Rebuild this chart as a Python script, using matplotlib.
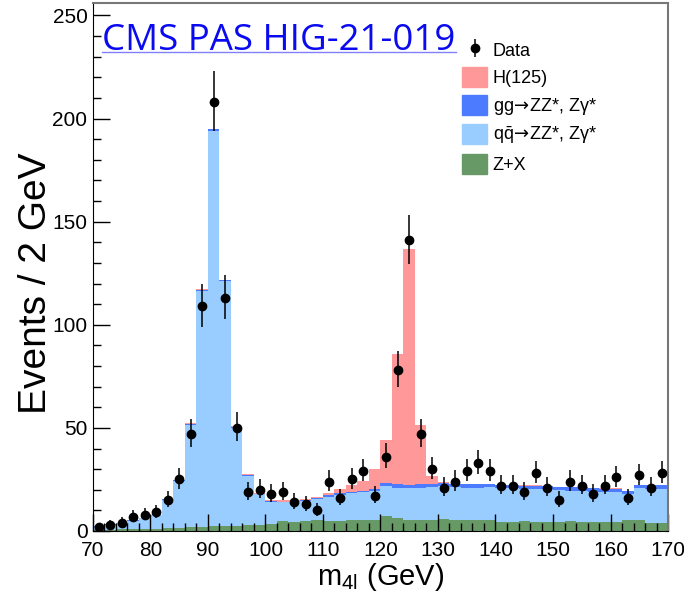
import numpy as np
import matplotlib
matplotlib.use('Agg')
import matplotlib.pyplot as plt
from matplotlib.patches import Patch
from matplotlib.lines import Line2D
from matplotlib.ticker import MultipleLocator

plt.rcParams['font.family'] = ['Liberation Sans', 'DejaVu Sans']
plt.rcParams['mathtext.fontset'] = 'custom'
plt.rcParams['mathtext.rm'] = 'Liberation Sans'
plt.rcParams['mathtext.it'] = 'Liberation Sans:italic'
plt.rcParams['mathtext.sf'] = 'DejaVu Sans'

# 2 GeV bins from 70 to 170 GeV
mass_edges = np.arange(70, 171, 2)

data_counts = [2, 3, 4, 7, 8, 9, 15, 25, 47, 109,
               208, 113, 50, 19, 20, 18, 19, 14, 13, 10,
               24, 16, 25, 29, 17, 36, 78, 141, 47, 30,
               21, 24, 29, 33, 29, 22, 22, 19, 28, 21,
               15, 24, 22, 18, 22, 26, 16, 27, 21, 28]

zx = [0.6, 0.7, 0.8, 0.9, 1.0, 1.1, 1.3, 1.5, 1.8, 2.0,
      2.2, 2.4, 2.6, 2.9, 3.1, 3.3, 4.9, 4.5, 4.7, 5.2,
      5.0, 5.0, 5.5, 5.2, 5.3, 7.3, 6.2, 5.3, 5.2, 5.4,
      5.9, 5.1, 5.4, 5.3, 5.2, 4.5, 4.5, 5.0, 4.6, 4.6,
      4.3, 4.7, 4.4, 4.2, 4.5, 4.4, 5.5, 5.4, 3.7, 3.7]

qq_zz = [1.4, 2.3, 3.1, 4.0, 5.2, 6.6, 13.8, 22.9, 49.5, 114.3,
         191.9, 118.6, 47.4, 24.0, 14.6, 10.8, 9.0, 9.4, 9.9, 10.3,
         11.7, 12.5, 12.8, 13.6, 14.1, 14.3, 14.8, 15.5, 15.8, 16.0,
         15.9, 16.1, 15.6, 15.7, 15.9, 16.3, 16.2, 15.4, 15.8, 15.6,
         15.4, 14.9, 15.2, 14.9, 14.5, 14.6, 12.2, 15.3, 16.8, 16.8]

gg_zz = [0.2, 0.2, 0.2, 0.2, 0.2, 0.2, 0.2, 0.2, 0.6, 0.6,
         0.6, 0.6, 0.6, 0.4, 0.4, 0.4, 0.4, 0.4, 0.4, 0.4,
         0.8, 0.8, 0.8, 0.8, 0.8, 1.6, 1.6, 1.6, 1.6, 1.6,
         1.6, 1.6, 1.6, 1.6, 1.6, 1.6, 1.6, 1.6, 1.6, 1.6,
         1.6, 1.6, 1.6, 1.6, 1.6, 1.6, 1.6, 1.6, 1.6, 1.6]

higgs = [0.0, 0.0, 0.0, 0.0, 0.0, 0.0, 0.0, 0.2, 0.3, 0.3,
         0.3, 0.3, 0.3, 0.4, 0.5, 0.5, 0.5, 0.8, 0.6, 0.5,
         0.8, 2.0, 3.3, 4.7, 9.7, 20.9, 63.2, 114.4, 28.7, 3.8,
         0.6, 0.2, 0.1, 0.1, 0.1, 0.1, 0.1, 0.1, 0.1, 0.1,
         0.1, 0.1, 0.1, 0.1, 0.1, 0.1, 0.1, 0.1, 0.1, 0.1]

labels = ['Data', 'H(125)',
          r'gg$\!\mathsf{\rightarrow}\!$ZZ*, Zγ*',
          r'q$\bar{\mathrm{q}}\!\mathsf{\rightarrow}\!$ZZ*, Zγ*',
          'Z+X']
colors = {'higgs': '#ff9999', 'gg': '#4d7bff', 'qq': '#99ccff', 'zx': '#669966'}

fig = plt.figure(figsize=(6.84, 5.94), dpi=100)
ax = fig.add_axes([93 / 684, 1 - 531 / 594, 575 / 684, 528 / 594])

# stacked histograms
bottom = np.zeros(len(zx))
for vals, key in [(zx, 'zx'), (qq_zz, 'qq'), (gg_zz, 'gg'), (higgs, 'higgs')]:
    top = bottom + np.array(vals)
    ax.stairs(top, mass_edges, baseline=bottom, fill=True, color=colors[key], lw=0)
    bottom = top

# data with poisson errors
centers = 0.5 * (mass_edges[:-1] + mass_edges[1:])
n = np.array(data_counts, dtype=float)
err_up = 0.5 + np.sqrt(n + 0.25)
err_dn = -0.5 + np.sqrt(n + 0.25)
data_h = ax.errorbar(centers, n, yerr=[err_dn, err_up], fmt='o', color='black',
                     markersize=6, elinewidth=1.1, capsize=0, zorder=5)

ax.set_xlim(70, 170)
ax.set_ylim(0, 256)
ax.xaxis.set_major_locator(MultipleLocator(10))
ax.xaxis.set_minor_locator(MultipleLocator(2))
ax.yaxis.set_major_locator(MultipleLocator(50))
ax.yaxis.set_minor_locator(MultipleLocator(10))
ax.tick_params(which='both', direction='in', top=False, right=False, labelsize=15)
ax.tick_params(which='major', length=12, width=1)
ax.tick_params(which='minor', length=6, width=1)
ax.tick_params(axis='x', pad=7)
ax.tick_params(axis='y', pad=4)
for side in ['top', 'right']:
    ax.spines[side].set_color('#777777')
    ax.spines[side].set_linewidth(1.5)

ax.set_ylabel('Events / 2 GeV', fontsize=28)
ax.yaxis.set_label_coords(-0.068, 0.47)
ax.set_xlabel(r'm$_{\mathrm{4l}}$ (GeV)', fontsize=21, labelpad=1)

# legend
handles = [data_h,
           Patch(color=colors['higgs']), Patch(color=colors['gg']),
           Patch(color=colors['qq']), Patch(color=colors['zx'])]
leg = ax.legend(handles, labels, loc='upper left', frameon=False, fontsize=13,
                bbox_to_anchor=(462 / 684, 1 - 40 / 594), bbox_transform=fig.transFigure,
                borderpad=0, borderaxespad=0, handlelength=1.4, handleheight=1.3,
                handletextpad=0.3, labelspacing=0.42)

# link-style header
fig.text(102 / 684, 1 - 50 / 594, 'CMS PAS HIG-21-019', color='#0a0af0',
         fontsize=26.4, family='Open Sans', va='baseline', ha='left')
fig.add_artist(Line2D([102 / 684, 456 / 684], [1 - 52 / 594, 1 - 52 / 594],
                      transform=fig.transFigure, color='#8080ff', lw=1))

fig.savefig('out.png', dpi=100)
